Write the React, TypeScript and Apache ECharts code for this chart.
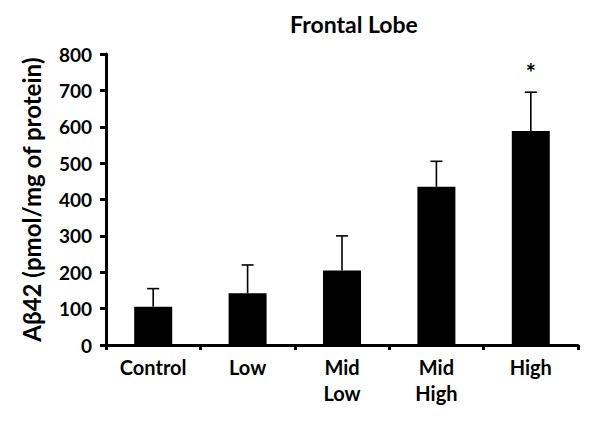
import React, { useEffect, useRef } from "react";
import * as echarts from "echarts";

const categories = ["Control", "Low", "Mid\nLow", "Mid\nHigh", "High"];
const means = [105, 142, 205, 435, 588];
const errorTops = [155, 220, 300, 505, 695];
const marks = ["", "", "", "", "*"];
const yTicks = { min: 0, max: 800, interval: 100 };

const FONT = "Lato, 'Open Sans', sans-serif";

export default function App() {
  const ref = useRef<HTMLDivElement>(null);
  useEffect(() => {
    document.body.style.margin = "0";
    const chart = echarts.init(ref.current!, undefined, { renderer: "svg" });
    chart.setOption({
      animation: false,
      backgroundColor: "#ffffff",
      title: {
        text: "Frontal Lobe",
        left: 349,
        textAlign: "center",
        top: 7,
        textStyle: { fontFamily: FONT, fontWeight: "bold", fontSize: 23, color: "#000" },
      },
      grid: { left: 106, right: 22, top: 54, bottom: 79 },
      xAxis: {
        type: "category",
        data: categories,
        axisLine: { lineStyle: { color: "#000", width: 3 } },
        axisTick: { show: true, length: 5, lineStyle: { color: "#000", width: 3 } },
        axisLabel: {
          color: "#000",
          fontFamily: FONT,
          fontWeight: "bold",
          fontSize: 20,
          margin: 9,
          lineHeight: 26,
          interval: 0,
        },
      },
      yAxis: {
        type: "value",
        min: yTicks.min,
        max: yTicks.max,
        interval: yTicks.interval,
        name: "Aβ42 (pmol/mg of protein)",
        nameLocation: "middle",
        nameGap: 63,
        nameTextStyle: { color: "#000", fontFamily: FONT, fontWeight: "bold", fontSize: 24 },
        splitLine: { show: false },
        axisLine: { show: true, lineStyle: { color: "#000", width: 3 } },
        axisTick: { show: true, length: 6, lineStyle: { color: "#000", width: 3 } },
        axisLabel: {
          color: "#000",
          fontFamily: FONT,
          fontWeight: "bold",
          fontSize: 19,
          margin: 14,
        },
      },
      series: [
        {
          type: "bar",
          data: means,
          barWidth: 38,
          itemStyle: { color: "#000" },
          z: 2,
        },
        {
          type: "custom",
          z: 3,
          data: categories.map((_, i) => [i, means[i], errorTops[i]]),
          renderItem: (params: any, api: any) => {
            const i = api.value(0);
            const base = api.coord([i, api.value(1)]);
            const top = api.coord([i, api.value(2)]);
            const cap = 6;
            const mark = marks[params.dataIndex];
            const children: any[] = [
              {
                type: "line",
                shape: { x1: base[0], y1: base[1], x2: top[0], y2: top[1] },
                style: { stroke: "#000", lineWidth: 1.6 },
              },
              {
                type: "line",
                shape: { x1: top[0] - cap, y1: top[1], x2: top[0] + cap, y2: top[1] },
                style: { stroke: "#000", lineWidth: 1.6 },
              },
            ];
            if (mark) {
              children.push({
                type: "text",
                x: top[0],
                y: top[1] - 20,
                style: {
                  text: mark,
                  fill: "#000",
                  font: `bold 24px ${FONT}`,
                  textAlign: "center",
                  textVerticalAlign: "middle",
                },
              });
            }
            return { type: "group", children };
          },
        },
      ],
    });
    return () => chart.dispose();
  }, []);
  return <div ref={ref} style={{ width: 600, height: 424 }} />;
}
